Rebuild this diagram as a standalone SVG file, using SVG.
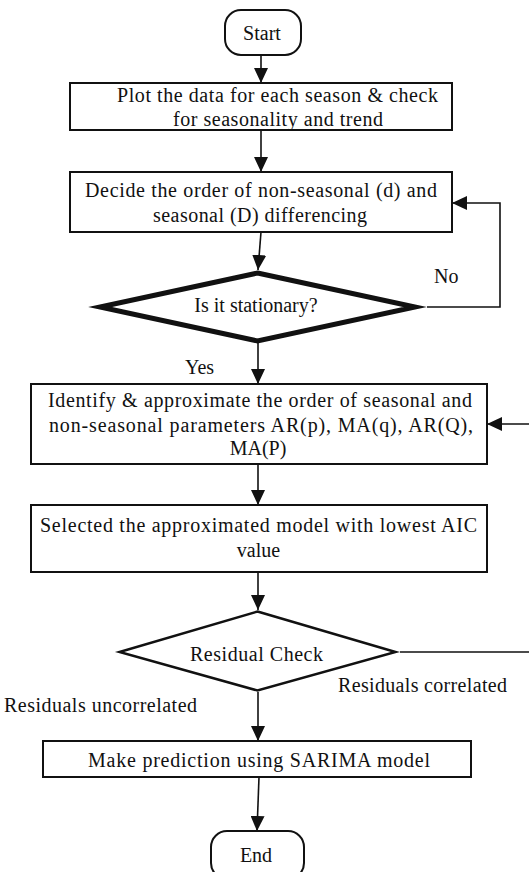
<svg xmlns="http://www.w3.org/2000/svg" width="529" height="872" viewBox="0 0 529 872">
<style>
text{font-family:"Liberation Serif","Times New Roman",serif;font-size:20px;fill:#111}
.c{text-anchor:middle}
.box{fill:#fff;stroke:#111;stroke-width:2}
.conn{fill:none;stroke:#111;stroke-width:1.6}
</style>
<defs>
<marker id="ah" viewBox="0 0 15 14" refX="15" refY="7" markerWidth="15" markerHeight="14" orient="auto" markerUnits="userSpaceOnUse">
<path d="M0,0 L15,7 L0,14 z" fill="#111"/>
</marker>
</defs>
<rect width="529" height="872" fill="#fff"/>

<g id="connectors">
<path class="conn" d="M261,55 V83" marker-end="url(#ah)"/>
<path class="conn" d="M261,130 V172" marker-end="url(#ah)"/>
<path class="conn" d="M261,232 L258,270" marker-end="url(#ah)"/>
<path class="conn" d="M427,307 H500 V203 H452" marker-end="url(#ah)"/>
<path class="conn" d="M258,343 V384" marker-end="url(#ah)"/>
<path class="conn" d="M258,464 V505" marker-end="url(#ah)"/>
<path class="conn" d="M258,572 V610" marker-end="url(#ah)"/>
<path class="conn" d="M400,652 H545 V424 H487" marker-end="url(#ah)"/>
<path class="conn" d="M258,692 V741" marker-end="url(#ah)"/>
<path class="conn" d="M259,777 L257,831" marker-end="url(#ah)"/>
<text x="434" y="283">No</text>
<text x="185" y="374">Yes</text>
<text x="338" y="692" textLength="169" lengthAdjust="spacing">Residuals correlated</text>
<text x="4" y="712" textLength="193" lengthAdjust="spacing">Residuals uncorrelated</text>
</g>

<g id="start">
<rect class="box" x="225" y="10" width="76" height="45" rx="16"/>
<text class="c" x="262" y="40">Start</text>
</g>

<g id="plot">
<rect class="box" x="70" y="83" width="382" height="47"/>
<text x="117" y="102" textLength="321" lengthAdjust="spacing">Plot the data for each season &amp; check</text>
<text x="173" y="126" textLength="210" lengthAdjust="spacing">for seasonality and trend</text>
</g>

<g id="decide">
<rect class="box" x="70" y="172" width="382" height="60"/>
<text x="85" y="197" textLength="352" lengthAdjust="spacing">Decide the order of non-seasonal (d) and</text>
<text x="153" y="222" textLength="214" lengthAdjust="spacing">seasonal (D) differencing</text>
</g>

<g id="stationary">
<polygon points="257.5,273 415,307 257.5,341 100,307" fill="#fff" stroke="#111" stroke-width="5" stroke-linejoin="miter" stroke-miterlimit="10"/>
<text class="c" x="256" y="312">Is it stationary?</text>
</g>

<g id="identify">
<rect class="box" x="31" y="384" width="456" height="80"/>
<text x="48" y="407" textLength="424" lengthAdjust="spacing">Identify &amp; approximate the order of seasonal and</text>
<text x="49" y="432" textLength="424" lengthAdjust="spacing">non-seasonal parameters AR(p), MA(q), AR(Q),</text>
<text class="c" x="258" y="455">MA(P)</text>
</g>

<g id="select">
<rect class="box" x="31" y="505" width="456" height="67"/>
<text x="40" y="532" textLength="437" lengthAdjust="spacing">Selected the approximated model with lowest AIC</text>
<text class="c" x="258.5" y="557">value</text>
</g>

<g id="residual">
<polygon points="257.5,611.5 395.5,652 257.5,690.5 119.5,652" fill="#fff" stroke="#111" stroke-width="2.5"/>
<text x="190" y="661" textLength="133" lengthAdjust="spacing">Residual Check</text>
</g>

<g id="predict">
<rect class="box" x="43" y="741" width="428" height="36"/>
<text x="88" y="767" textLength="342" lengthAdjust="spacing">Make prediction using SARIMA model</text>
</g>

<g id="end">
<rect class="box" x="211" y="831" width="93" height="48" rx="16"/>
<text class="c" x="256" y="862">End</text>
</g>
</svg>
